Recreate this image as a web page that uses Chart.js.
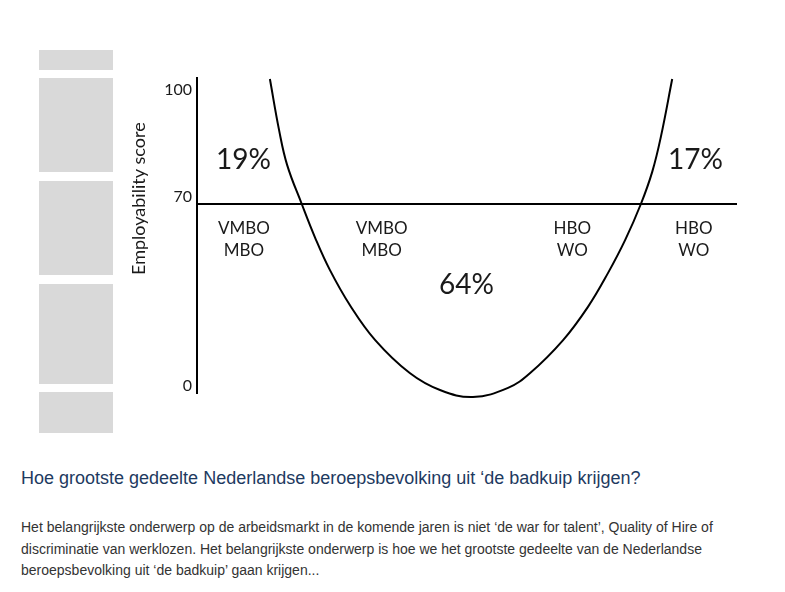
<!DOCTYPE html>
<html>
<head>
<meta charset="utf-8">
<script src="https://cdn.jsdelivr.net/npm/chart.js@4.4.1/dist/chart.umd.min.js"></script>
<style>
  html, body { margin: 0; padding: 0; background: #fff; }
  body { width: 785px; height: 592px; position: relative; overflow: hidden; }
  .box { position: absolute; left: 39px; width: 74px; background: #d9d9d9; }
  #wrap { position: absolute; left: 0; top: 0; width: 785px; height: 450px; }
  #title { position: absolute; left: 21px; top: 467px; font: 18px "Liberation Sans", Arial, sans-serif;
           line-height: 22px; color: #1e3a5f; white-space: nowrap; }
  #para { position: absolute; left: 21px; top: 517px; font: 14px "Liberation Sans", Arial, sans-serif;
          line-height: 21.5px; color: #333; white-space: nowrap; }
</style>
</head>
<body>
<div class="box" style="top:50px;height:20px"></div>
<div class="box" style="top:78px;height:94px"></div>
<div class="box" style="top:181px;height:94px"></div>
<div class="box" style="top:284px;height:100px"></div>
<div class="box" style="top:392px;height:41px"></div>

<div id="wrap"><canvas id="bathtub"></canvas></div>

<div id="title">Hoe grootste gedeelte Nederlandse beroepsbevolking uit ‘de badkuip krijgen?</div>
<div id="para">Het belangrijkste onderwerp op de arbeidsmarkt in de komende jaren is niet ‘de war for talent’, Quality of Hire of<br>discriminatie van werklozen. Het belangrijkste onderwerp is hoe we het grootste gedeelte van de Nederlandse<br>beroepsbevolking uit ‘de badkuip’ gaan krijgen...</div>

<script>
// --- data ---
const curveX = [13.5, 15.2, 16.7, 19.4, 21.9, 24.6, 28.3, 33.0, 39.4, 45.0, 51.1, 57.6, 61.7, 67.8, 72.4, 76.1, 79.3, 82.2, 84.3, 85.9, 88.0];
const curveY = [105, 90.7, 80.9, 70, 57.4, 45.6, 32.6, 19.6, 7.4, 1.1, -1.5, 1.9, 7.4, 19.6, 31.9, 44.4, 56.7, 70, 79.0, 88.8, 105];
const threshold = 70;
const yTicks = [0, 70, 100];
const yTitle = 'Employability score';
const shareLabels = ['19%', '64%', '17%'];
const groupLabels = [['VMBO', 'MBO'], ['VMBO', 'MBO'], ['HBO', 'WO'], ['HBO', 'WO']];

// where the labels sit, in axis units
const sharePos = [{x: 8.6, y: 82.3}, {x: 49.9, y: 40}, {x: 92.3, y: 82.3}];
const groupPos = [{x: 8.7, y: 61.1}, {x: 34.2, y: 61.1}, {x: 69.5, y: 61.1}, {x: 92.0, y: 61.1}];

// y axis in the picture is not drawn to scale: 0-70 takes 60% of the height
function warp(v) {
    return v <= 70 ? v / 70 * 0.6 : 0.6 + (v - 70) / 30 * 0.34;
}
function unwarp(d) {
    return d <= 0.6 ? d / 0.6 * 70 : 70 + (d - 0.6) / 0.34 * 30;
}
class SchematicScale extends Chart.LinearScale {
    getPixelForValue(value) {
        return this.getPixelForDecimal(warp(value));
    }
    getValueForPixel(pixel) {
        return unwarp(this.getDecimalForPixel(pixel));
    }
}
SchematicScale.id = 'schematic';
SchematicScale.defaults = Chart.LinearScale.defaults;
Chart.register(SchematicScale);

const chartFont = 'Lato, "Open Sans", sans-serif';

const textPlugin = {
    id: 'textLabels',
    afterDatasetsDraw(chart) {
        const {ctx, scales: {x, y}} = chart;
        ctx.save();
        ctx.fillStyle = '#1a1a1a';
        ctx.textAlign = 'center';
        ctx.textBaseline = 'middle';
        ctx.font = '28px ' + chartFont;
        shareLabels.forEach((t, i) => {
            ctx.fillText(t, x.getPixelForValue(sharePos[i].x), y.getPixelForValue(sharePos[i].y));
        });
        ctx.font = '17px ' + chartFont;
        groupLabels.forEach((lines, i) => {
            const px = x.getPixelForValue(groupPos[i].x);
            const py = y.getPixelForValue(groupPos[i].y);
            lines.forEach((t, j) => ctx.fillText(t, px, py + j * 22));
        });
        // axis title sits a bit above the middle of the axis in the original
        ctx.font = '18px ' + chartFont;
        ctx.translate(y.left + 19, y.getPixelForValue(71.5));
        ctx.rotate(-Math.PI / 2);
        ctx.fillText(yTitle, 0, 0);
        ctx.restore();
    }
};

new Chart(document.getElementById('bathtub'), {
    type: 'line',
    data: {
        datasets: [{
            data: curveX.map((v, i) => ({x: v, y: curveY[i]})),
            borderColor: '#000',
            borderWidth: 2,
            pointRadius: 0,
            tension: 0.4,
            clip: false
        }, {
            data: [{x: 0, y: threshold}, {x: 100, y: threshold}],
            borderColor: '#000',
            borderWidth: 2,
            pointRadius: 0
        }]
    },
    options: {
        responsive: true,
        maintainAspectRatio: false,
        animation: false,
        layout: { padding: { left: 120, right: 48, top: 78, bottom: 57 } },
        plugins: {
            legend: { display: false },
            tooltip: { enabled: false }
        },
        scales: {
            x: { type: 'linear', min: 0, max: 100, display: false },
            y: {
                type: 'schematic',
                min: 0,
                max: 105,
                afterBuildTicks: (scale) => { scale.ticks = yTicks.map(v => ({value: v})); },
                afterFit: (scale) => { scale.width = 77; },
                grid: { display: false, drawTicks: false },
                border: { display: true, color: '#000', width: 2 },
                ticks: {
                    padding: 5,
                    labelOffset: -7,
                    color: '#1a1a1a',
                    font: { family: chartFont, size: 16 }
                },
                title: { display: false }
            }
        }
    },
    plugins: [textPlugin]
});
</script>
</body>
</html>
